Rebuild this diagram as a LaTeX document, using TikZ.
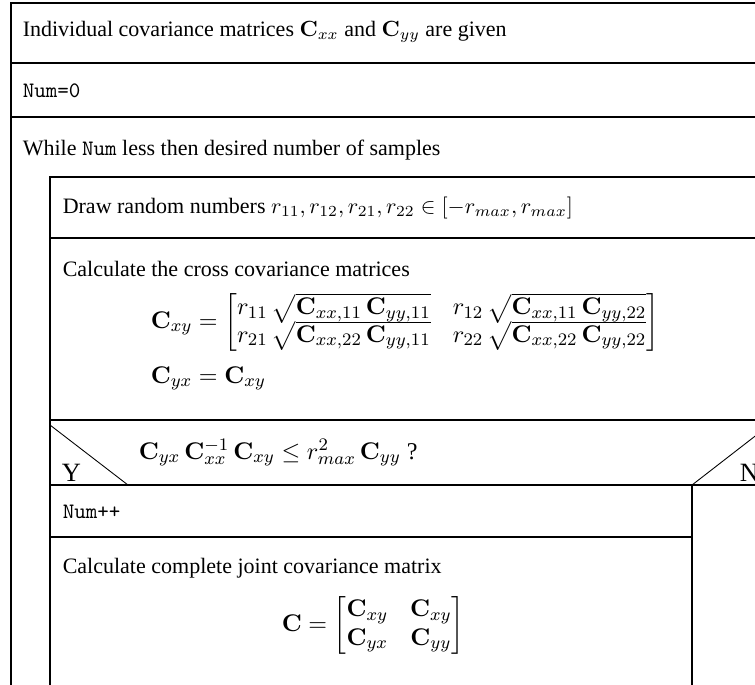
\documentclass[tikz,border=0pt]{standalone}
\usepackage{amsmath}
\usepackage[no-math]{fontspec}
\setmainfont{Liberation Serif}
\newcommand{\mC}{\mathbf{C}}
\begin{document}
\begin{tikzpicture}[x=0.4545pt, y=-0.4545pt, line width=0.7pt,
  every node/.style={inner sep=0pt, anchor=base west},
  eq/.style={font=\fontsize{10.95}{13}\selectfont},
  branch/.style={font=\large},
  split/.style={line width=0.4pt}]
\useasboundingbox (0,0) rectangle (755,684);
\clip (0,0) rectangle (755,684);
% outer frame and first rows
\draw (11,690) -- (11,3) -- (770,3);
\foreach \y in {63,117} { \draw (11,\y) -- (770,\y); }
% body of the while loop
\draw (50,690) -- (50,177) -- (770,177);
\foreach \y in {238,420,485} { \draw (50,\y) -- (770,\y); }
\draw (50,537) -- (692,537);
\draw (692,485) -- (692,690);
% if-then-else corners
\draw[split] (50,425) -- (128,485);
\draw[split] (692,485) -- (772,423);
% texts
\node (given) at (22,36) {Individual covariance matrices $\mC_{xx}$ and $\mC_{yy}$ are given};
\node (init) at (22,97) {\texttt{Num=0}};
\node (loop) at (22,155) {While \texttt{Num} less then desired number of samples};
\node (draw) at (62,213) {Draw random numbers $r_{11}, r_{12}, r_{21}, r_{22} \in [-r_{max}, r_{max}]$};
\node (cross) at (62,276) {Calculate the cross covariance matrices};
\node[eq, anchor=west] (cxy) at (150,322) {\renewcommand{\arraystretch}{0.85}$\displaystyle \mC_{xy} = \begin{bmatrix}
  r_{11}\,\sqrt{\mC_{xx,11}\,\mC_{yy,11}} & r_{12}\,\sqrt{\mC_{xx,11}\,\mC_{yy,22}} \\[-1pt]
  r_{21}\,\sqrt{\mC_{xx,22}\,\mC_{yy,11}} & r_{22}\,\sqrt{\mC_{xx,22}\,\mC_{yy,22}}
  \end{bmatrix}$};
\node[eq] (cyx) at (150,383) {$\displaystyle \mC_{yx} = \mC_{xy}$};
\node[eq] (cond) at (138,459) {$\mC_{yx}\,\mC_{xx}^{-1}\,\mC_{xy} \leq r_{max}^2\,\mC_{yy}$ ?};
\node[branch] (yes) at (61,481) {Y};
\node[branch] (no) at (739,481) {N};
\node (inc) at (62,518) {\texttt{Num++}};
\node (joint) at (62,573) {Calculate complete joint covariance matrix};
\node[eq, anchor=west] (cfull) at (281,625) {$\displaystyle \mC = \begin{bmatrix}
  \mC_{xy} & \mC_{xy} \\ \mC_{yx} & \mC_{yy} \end{bmatrix}$};
\end{tikzpicture}
\end{document}
